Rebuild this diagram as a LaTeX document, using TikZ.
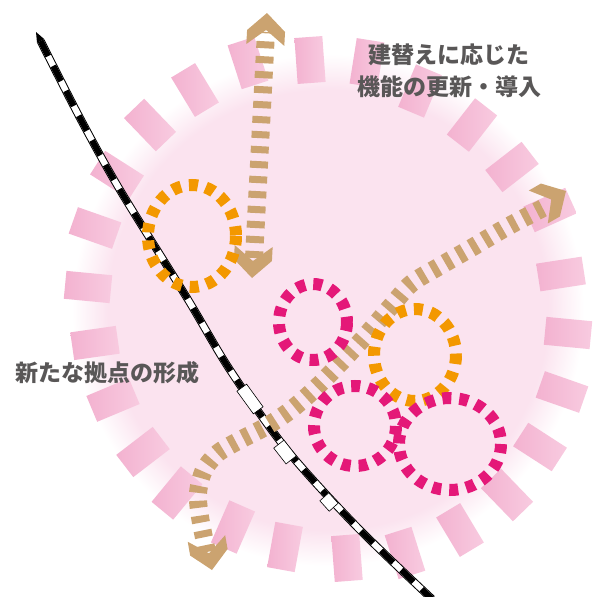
\documentclass[tikz,border=0pt]{standalone}
\usepackage{fontspec}
\newfontfamily\cjk{Noto Sans CJK JP}
\definecolor{diskpink}{RGB}{251,227,239}
\definecolor{rectin}{RGB}{243,178,208}
\definecolor{rectout}{RGB}{248,203,224}
\definecolor{tanc}{RGB}{203,163,112}
\definecolor{orangec}{RGB}{243,152,0}
\definecolor{magc}{RGB}{228,24,120}
\definecolor{txtgray}{RGB}{89,87,87}
\pgfdeclareradialshading{diskshade}{\pgfpoint{0bp}{0bp}}{color(0bp)=(diskpink); color(21.5bp)=(diskpink); color(25bp)=(white); color(50bp)=(white)}
\newcommand\chev[3]{\fill[tanc, shift={(#1,#2)}, rotate=#3] (0,0) -- (-18,19) -- (-32,19) -- (-17,0) -- (-32,-19) -- (-18,-19) -- cycle;}
\begin{document}
\begin{tikzpicture}[x=1pt,y=-1pt,
  lbl/.style={font=\cjk\bfseries\fontsize{23}{27}\selectfont, text=txtgray, inner sep=0pt},
  ringdash/.style={line width=12, dash pattern=on 9 off 8},
  tandash/.style={tanc, line width=18, dash pattern=on 7 off 8},
  station/.style={draw=black, line width=0.6, fill=white, inner sep=0pt}]
\useasboundingbox (0,0) rectangle (598,597);
% disk
\shade[shading=diskshade] (328,310) circle (256);
% ring of pink blocks
\foreach \px/\py in {310/60, 367/63, 420/91, 472/125, 512/167, 550/210, 561/274, 568/333, 562/392, 540/447, 507/495, 460/530, 405/553, 347/558, 285/547, 233/527, 177/493, 143/452, 113/400, 95/343, 88/287, 95/228, 117/175, 150/125, 195/90, 248/63}{
  \pgfmathsetmacro\ang{atan2(310-\py, \px-328)}
  \shade[left color=rectin, right color=rectout, shift={(\px,\py)}, rotate=\ang] (-23,-14) rectangle (23,14);
}
% railway
\draw[line width=8, black,
  postaction={draw, white, line width=6},
  postaction={draw, black, line width=6, dash pattern=on 17 off 11}]
  plot[smooth] coordinates {(40.6,40.9) (80,118) (120,190) (187,298) (230,370) (287,450) (357,527) (432,599)};
\fill[black] (36,32) -- (44.2,39.1) -- (37.0,42.7) -- cycle;
\node[station, minimum width=28, minimum height=12, rotate=-54] (s1) at (250,399) {};
\node[station, minimum width=20, minimum height=13, rotate=-52] (s2) at (285,452) {};
\node[station, minimum width=14, minimum height=12, rotate=-48] (s3) at (329,502) {};
% arrow 2 (curved)
\draw[tandash] plot[smooth] coordinates {(207,552) (200,517) (198,493) (204,470) (218,453) (240,440) (267,426) (292,409) (320,384) (360,342) (392,305) (412,283) (440,266) (473,247) (507,227) (545,207)};
\chev{566}{191}{30}
\chev{212}{570}{-80}
% arrow 1 (vertical)
\draw[tandash] (254,258) -- (266,32);
\chev{267}{13}{87}
\chev{252}{278}{-93}
% rings
\draw[ringdash, orangec] (192,236) ellipse [x radius=44, y radius=51];
\draw[ringdash, magc] (313,322) ellipse [x radius=34, y radius=38];
\draw[ringdash, orangec] (415,355) ellipse [x radius=41, y radius=46];
\draw[ringdash, magc] (355,426) ellipse [x radius=41, y radius=40];
\draw[ringdash, magc] (450,444) ellipse [x radius=51, y radius=46];
% labels
\node[lbl] (t1) at (449,55) {建替えに応じた};
\node[lbl] (t2) at (449,87) {機能の更新・導入};
\node[lbl] (t3) at (108,373) {新たな拠点の形成};
\end{tikzpicture}
\end{document}
